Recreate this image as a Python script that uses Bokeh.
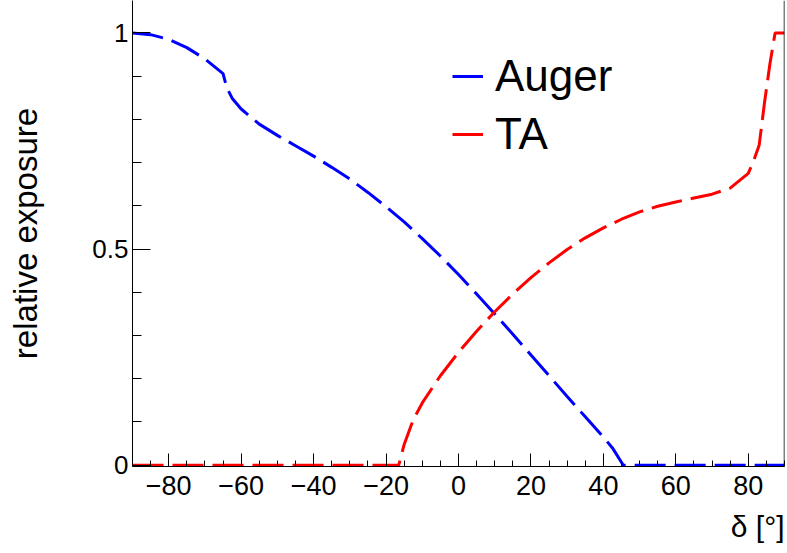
from bokeh.plotting import figure
from bokeh.models import Range1d, SingleIntervalTicker, Legend, LegendItem, Span, Title
from bokeh.embed import file_html
from bokeh.resources import INLINE

# Declination [deg] and relative exposure
auger_dec = [-90, -85, -80, -75, -70, -65, -64, -62.5, -60, -55, -50, -45, -40, -35, -30,
             -25, -20, -15, -10, -5, 0, 5, 10, 15, 20, 25, 30, 35, 40, 42.5, 45.5, 60, 75, 90]
auger_exp = [1.000, 0.996, 0.985, 0.966, 0.940, 0.906, 0.874, 0.849, 0.824, 0.789, 0.763,
             0.739, 0.715, 0.689, 0.662, 0.631, 0.598, 0.563, 0.524, 0.484, 0.441, 0.396,
             0.350, 0.303, 0.255, 0.207, 0.159, 0.112, 0.065, 0.040, 0.0, 0.0, 0.0, 0.0]

ta_dec = [-90, -60, -30, -16.5, -15, -12.5, -10, -5, 0, 5, 10, 15, 20, 25, 30, 35, 40, 45,
          50, 55, 60, 65, 70, 75, 80, 81.5, 83, 84.5, 86, 87.4, 90]
ta_exp = [0.0, 0.0, 0.0, 0.0, 0.048, 0.105, 0.144, 0.207, 0.261, 0.310, 0.355, 0.396, 0.434,
          0.468, 0.499, 0.526, 0.549, 0.569, 0.586, 0.599, 0.609, 0.618, 0.627, 0.641, 0.675,
          0.705, 0.740, 0.840, 0.930, 1.000, 1.000]

y_label_map = {0: "0", 0.5: "0.5", 1: "1"}

FONT = "Liberation Sans"

p = figure(width=787, height=553, output_backend="svg", toolbar_location=None,
           x_range=Range1d(-90, 90), y_range=Range1d(-0.003, 1.075),
           min_border_left=132, min_border_right=3, min_border_top=0, min_border_bottom=86)
p.outline_line_color = None
p.grid.visible = False
p.background_fill_color = "white"
p.border_fill_color = "white"

r_auger = p.line(auger_dec, auger_exp, line_color="#0000ff", line_width=3, line_dash="31 9")
r_ta = p.line(ta_dec, ta_exp, line_color="#ff0000", line_width=3, line_dash="31 9")

p.add_layout(Span(location=90, dimension="height", line_color="black", line_width=1.5))

xa = p.xaxis[0]
xa.ticker = SingleIntervalTicker(interval=20, num_minor_ticks=4)
xa.major_tick_in = 13
xa.major_tick_out = 0
xa.minor_tick_in = 6
xa.minor_tick_out = 0
xa.axis_line_color = "black"
xa.major_label_text_font = FONT
xa.major_label_text_font_size = "27px"
xa.major_label_text_color = "black"
xa.major_label_standoff = 9

ya = p.yaxis[0]
ya.ticker = SingleIntervalTicker(interval=0.5, num_minor_ticks=5)
ya.major_label_overrides = y_label_map
ya.major_tick_in = 18
ya.major_tick_out = 0
ya.minor_tick_in = 9
ya.minor_tick_out = 0
ya.axis_line_color = "black"
ya.major_label_text_font = FONT
ya.major_label_text_font_size = "26px"
ya.major_label_text_color = "black"
ya.major_label_standoff = 4
ya.axis_label = "relative exposure"
ya.axis_label_text_font = FONT
ya.axis_label_text_font_size = "33px"
ya.axis_label_text_font_style = "normal"
ya.axis_label_text_color = "black"
ya.axis_label_standoff = 45

p.add_layout(Title(text="δ [°]", align="right", text_font=FONT, text_font_size="30px",
                   text_font_style="normal", text_color="black", text_line_height=0.8,
                   standoff=21), "below")

legend = Legend(items=[LegendItem(label="Auger", renderers=[r_auger]),
                       LegendItem(label="TA", renderers=[r_ta])],
                location=(320, 307), orientation="vertical",
                label_text_font=FONT, label_text_font_size="44px", label_text_color="black",
                glyph_width=31, glyph_height=20, label_standoff=12, spacing=8,
                padding=0, margin=0, border_line_alpha=0, background_fill_alpha=0)
p.add_layout(legend)

open("out.html", "w").write(file_html(p, INLINE))
